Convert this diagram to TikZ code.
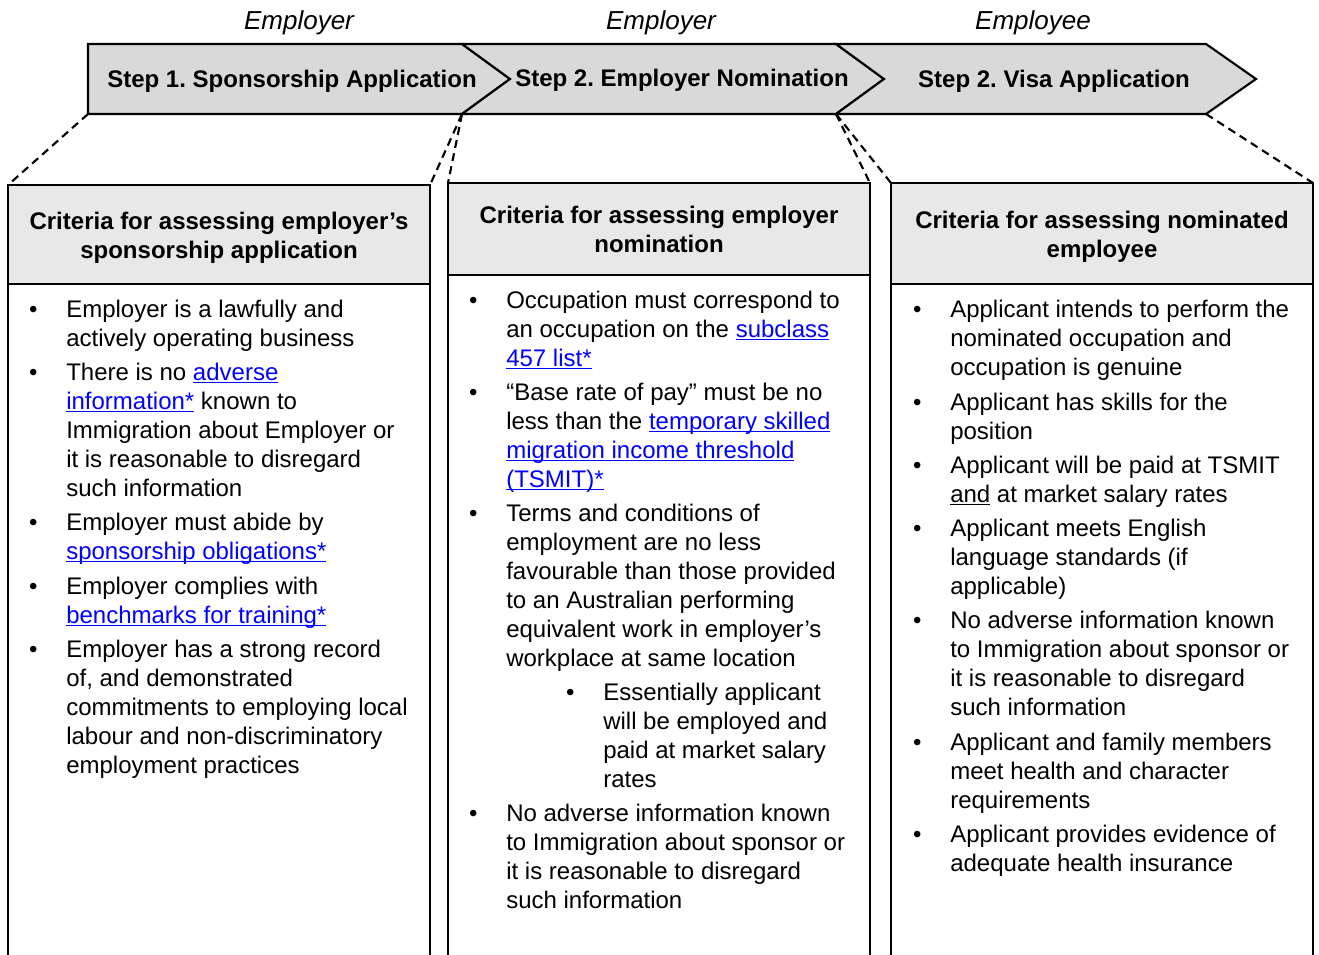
\documentclass[tikz,border=0pt]{standalone}
\usepackage{fontspec}
\setmainfont{Liberation Sans}

\definecolor{chevgray}{HTML}{D9D9D9}
\definecolor{headgray}{HTML}{E8E8E8}
\definecolor{linkblue}{HTML}{0000FF}

\newcommand\bodysize{\fontsize{18pt}{21.75pt}\selectfont\frenchspacing}
\newcommand\undl[1]{\leavevmode\setbox0\hbox{#1}\rlap{\rule[-2.6pt]{\wd0}{0.9pt}}\box0\relax}
\newcommand\lnk[1]{{\color{linkblue}\undl{#1}}}
\newcommand\bul{\llap{\textbullet\hspace{21.5pt}}}
\newcommand\toppad{\rule{0pt}{17.5pt}}

\tikzset{
  chev/.style={draw, line width=1.6pt, fill=chevgray, line join=miter},
  steptxt/.style={font=\bodysize\bfseries},
  role/.style={font=\fontsize{19.5pt}{23pt}\selectfont\itshape},
  crit/.style={draw, line width=1.8pt, fill=headgray, align=center, font=\bodysize\bfseries,
    anchor=north west, outer sep=0pt, minimum width=316.5pt},
  frame/.style={line width=1.8pt},
  zoomline/.style={line width=1.6pt, dash pattern=on 6pt off 4pt},
  item/.style={anchor=base west, align=left, inner sep=0pt, font=\bodysize},
}

\begin{document}
\begin{tikzpicture}[x=0.75pt,y=-0.75pt]
  \useasboundingbox (0,0) rectangle (1319,955);

  % who does each step
  \node[role] (r1) at (299,23) {Employer};
  \node[role] (r2) at (661,23) {Employer};
  \node[role] (r3) at (1033,23) {Employee};

  % the three steps
  \draw[chev] (88,44) -- (462,44) -- (510,79) -- (462,114) coordinate (p1) -- (88,114) coordinate (p0) -- cycle;
  \draw[chev] (462,44) -- (836,44) -- (884,79) -- (836,114) coordinate (p2) -- (462,114) -- (510,79) -- cycle;
  \draw[chev] (836,44) -- (1206,44) -- (1256,79) -- (1206,114) coordinate (p3) -- (836,114) -- (884,79) -- cycle;
  \node[steptxt] (s1) at (292,81) {Step 1. Sponsorship Application};
  \node[steptxt] (s2) at (682,80) {Step 2. Employer Nomination};
  \node[steptxt] (s3) at (1054,81) {Step 2. Visa Application};

  % criteria boxes
  \node[crit, minimum height=74.25pt] (h1) at (8,185) {\toppad Criteria for assessing employer’s\\sponsorship application};
  \node[crit, minimum height=69pt] (h2) at (448,183) {Criteria for assessing employer\\nomination};
  \node[crit, minimum height=75.75pt] (h3) at (891,183) {\toppad Criteria for assessing nominated\\employee};
  \foreach \h in {h1,h2,h3} {
    \draw[frame] (\h.south west) -- ++(0,690);
    \draw[frame] (\h.south east) -- ++(0,690);
  }

  \draw[zoomline] (p0) -- (h1.north west);
  \draw[zoomline] (p1) -- (h1.north east);
  \draw[zoomline] (p1) -- (h2.north west);
  \draw[zoomline] (p2) -- (h2.north east);
  \draw[zoomline] (p2) -- (h3.north west);
  \draw[zoomline] (p3) -- (h3.north east);

  % sponsorship criteria (placed at the baseline of the last line)
  \node[item] (sp1) at (66,346) {\bul Employer is a lawfully and\\actively operating business};
  \node[item] (sp2) at (66,496) {\bul There is no \lnk{adverse}\\\lnk{information*} known to\\Immigration about Employer or\\it is reasonable to disregard\\such information};
  \node[item] (sp3) at (66,559) {\bul Employer must abide by\\\lnk{sponsorship obligations*}};
  \node[item] (sp4) at (66,623) {\bul Employer complies with\\\lnk{benchmarks for training*}};
  \node[item] (sp5) at (66,773) {\bul Employer has a strong record\\of, and demonstrated\\commitments to employing local\\labour and non-discriminatory\\employment practices};

  % nomination criteria
  \node[item] (nm1) at (506,366) {\bul Occupation must correspond to\\an occupation on the \lnk{subclass}\\\lnk{457 list*}};
  \node[item] (nm2) at (506,487) {\bul “Base rate of pay” must be no\\less than the \lnk{temporary skilled}\\\lnk{migration income threshold}\\\lnk{(TSMIT)*}};
  \node[item] (nm3) at (506,666) {\bul Terms and conditions of\\employment are no less\\favourable than those provided\\to an Australian performing\\equivalent work in employer’s\\workplace at same location};
  \node[item] (nm4) at (603,787) {\bul Essentially applicant\\will be employed and\\paid at market salary\\rates};
  \node[item] (nm5) at (506,908) {\bul No adverse information known\\to Immigration about sponsor or\\it is reasonable to disregard\\such information};

  % visa criteria
  \node[item] (vs1) at (950,375) {\bul Applicant intends to perform the\\nominated occupation and\\occupation is genuine};
  \node[item] (vs2) at (950,439) {\bul Applicant has skills for the\\position};
  \node[item] (vs3) at (950,502) {\bul Applicant will be paid at TSMIT\\\undl{and} at market salary rates};
  \node[item] (vs4) at (950,594) {\bul Applicant meets English\\language standards (if\\applicable)};
  \node[item] (vs5) at (950,715) {\bul No adverse information known\\to Immigration about sponsor or\\it is reasonable to disregard\\such information};
  \node[item] (vs6) at (950,808) {\bul Applicant and family members\\meet health and character\\requirements};
  \node[item] (vs7) at (950,871) {\bul Applicant provides evidence of\\adequate health insurance};
\end{tikzpicture}
\end{document}
